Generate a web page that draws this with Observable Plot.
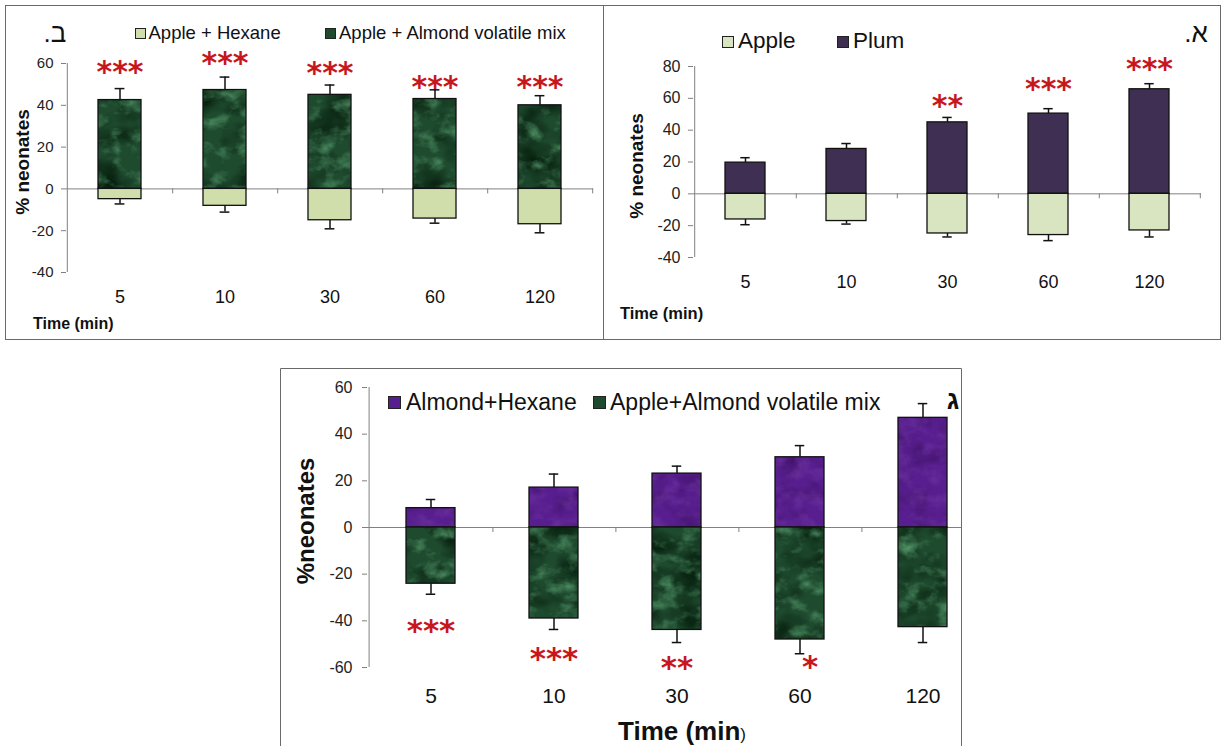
<!DOCTYPE html>
<html>
<head>
<meta charset="utf-8">
<script src="https://cdn.jsdelivr.net/npm/d3@7"></script>
<script src="https://cdn.jsdelivr.net/npm/@observablehq/plot@0.6"></script>
<style>
html,body{margin:0;padding:0;background:#fff;}
#page{position:relative;width:1225px;height:746px;overflow:hidden;background:#fff;font-family:"Liberation Sans",Arial,sans-serif;}
#chartB{position:absolute;left:0;top:0;width:603px;height:340px;}
#chartA{position:absolute;left:603px;top:0;width:618px;height:340px;}
#clipC{position:absolute;left:278px;top:368px;width:684px;height:378px;overflow:hidden;}
#overlay{position:absolute;left:0;top:0;pointer-events:none;}
</style>
</head>
<body>
<div id="page">
  <svg width="0" height="0" style="position:absolute;left:0;top:0">
    <defs>
      <filter id="nGreenLight" filterUnits="userSpaceOnUse" x="0" y="0" width="1300" height="800" color-interpolation-filters="sRGB">
        <feTurbulence type="fractalNoise" baseFrequency="0.05 0.07" numOctaves="4" seed="5"/>
        <feColorMatrix type="matrix" values="0 0 0 0 0.33  0 0 0 0 0.60  0 0 0 0 0.42  2.0 0 0 0 -0.95"/>
      </filter>
      <filter id="nGreenDark" filterUnits="userSpaceOnUse" x="0" y="0" width="1300" height="800" color-interpolation-filters="sRGB">
        <feTurbulence type="fractalNoise" baseFrequency="0.025 0.035" numOctaves="3" seed="9"/>
        <feColorMatrix type="matrix" values="0 0 0 0 0.03  0 0 0 0 0.13  0 0 0 0 0.06  0 2.4 0 0 -0.95"/>
      </filter>
      <pattern id="marbleGreen" patternUnits="userSpaceOnUse" width="1300" height="800">
        <rect width="1300" height="800" fill="#1e4a2e"/>
        <rect width="1300" height="800" filter="url(#nGreenDark)"/>
        <rect width="1300" height="800" filter="url(#nGreenLight)"/>
      </pattern>
      <filter id="nPurpleLight" filterUnits="userSpaceOnUse" x="0" y="0" width="1300" height="800" color-interpolation-filters="sRGB">
        <feTurbulence type="fractalNoise" baseFrequency="0.06 0.08" numOctaves="4" seed="3"/>
        <feColorMatrix type="matrix" values="0 0 0 0 0.45  0 0 0 0 0.22  0 0 0 0 0.64  1.4 0 0 0 -0.62"/>
      </filter>
      <filter id="nPurpleDark" filterUnits="userSpaceOnUse" x="0" y="0" width="1300" height="800" color-interpolation-filters="sRGB">
        <feTurbulence type="fractalNoise" baseFrequency="0.04 0.05" numOctaves="3" seed="12"/>
        <feColorMatrix type="matrix" values="0 0 0 0 0.22  0 0 0 0 0.06  0 0 0 0 0.36  0 1.4 0 0 -0.62"/>
      </filter>
      <pattern id="marblePurple" patternUnits="userSpaceOnUse" width="1300" height="800">
        <rect width="1300" height="800" fill="#581e8f"/>
        <rect width="1300" height="800" filter="url(#nPurpleDark)"/>
        <rect width="1300" height="800" filter="url(#nPurpleLight)"/>
      </pattern>
    </defs>
  </svg>
  <div id="chartB"></div>
  <div id="chartA"></div>
  <div id="clipC"></div>
  <svg id="overlay" width="1225" height="746"></svg>
</div>
<script>
// ---------- DATA ----------
const times = ["5", "10", "30", "60", "120"];

// Panel ב (top-left)
const bMixValues = [42.5, 47.3, 45, 43, 40];
const bMixErrors = [48, 53.5, 49.7, 47.4, 44.6];
const bHexaneValues = [-4.9, -8.1, -15, -14.2, -16.9];
const bHexaneErrors = [-7.2, -11.1, -19.1, -16.4, -21];
const bStarLabels = ["***", "***", "***", "***", "***"];
const bStarValues = [59.3, 63.5, 58.9, 52, 52];
const bYTicks = [-40, -20, 0, 20, 40, 60];
const bLegend = ["Apple + Hexane", "Apple + Almond volatile mix"];

// Panel א (top-right)
const aPlumValues = [19.6, 28.2, 44.9, 50.4, 65.7];
const aPlumErrors = [22.7, 31.6, 48, 53.5, 69.2];
const aAppleValues = [-16.1, -17.1, -24.9, -25.9, -23];
const aAppleErrors = [-19.4, -19, -27.1, -29.4, -27.1];
const aStarLabels = ["", "", "**", "***", "***"];
const aStarValues = [null, null, 59.6, 70, 83];
const aYTicks = [-40, -20, 0, 20, 40, 60, 80];
const aLegend = ["Apple", "Plum"];

// Panel ג (bottom)
const cAlmondValues = [8.3, 17.1, 23.1, 30.1, 47];
const cAlmondErrors = [12, 22.9, 26.3, 35.1, 53.1];
const cMixValues = [-24.1, -39, -43.9, -48, -42.7];
const cMixErrors = [-28.6, -43.7, -49.3, -54.1, -49.3];
const cStarLabels = ["***", "***", "**", "*", ""];
const cStarValues = [-41.2, -53.1, -57.0, -56.8, null];
const cYTicks = [-60, -40, -20, 0, 20, 40, 60];
const cLegend = ["Almond+Hexane", "Apple+Almond volatile mix"];

const panelLetters = ["ב.", "א.", "ג"];
const xTitle = "Time (min";
const xTitleClose = ")";
const yTitleTop = "% neonates";
const yTitleBottom = "%neonates";

// ---------- HELPERS ----------
const FONT = "'Liberation Sans', Arial, Helvetica, sans-serif";
const STAR_FONT = "'DejaVu Sans', sans-serif";
const rows = (vals, errs) => times.map((t, i) => ({time: t, value: vals[i], err: errs[i]}));
const starRows = (labels, vals) => times.map((t, i) => ({time: t, label: labels[i], value: vals[i]})).filter(d => d.label);

function makePanel(o) {
  const n = times.length;
  const step = (o.width - o.marginLeft - o.marginRight) / n;
  const bw = step * o.barFrac;
  const cap = (bw - o.capWidth) / 2;
  const ink = "#111";
  const axisGray = "#808080";
  const pos = rows(o.posValues, o.posErrors);
  const neg = rows(o.negValues, o.negErrors);
  const stars = starRows(o.starLabels, o.starValues);
  const errorBars = (data) => [
    Plot.ruleX(data, {x: "time", y1: "value", y2: "err", stroke: ink, strokeWidth: 1.5}),
    Plot.tickY(data, {x: "time", y: "err", insetLeft: cap, insetRight: cap, stroke: ink, strokeWidth: 1.5})
  ];
  const starStyle = {x: "time", y: "value", text: "label", fill: "#c8161d", fontSize: o.starFont, fontFamily: STAR_FONT, fontWeight: "bold", dy: o.starFont * 0.24};
  return Plot.plot({
    width: o.width, height: o.height,
    marginLeft: o.marginLeft, marginRight: o.marginRight, marginTop: o.marginTop, marginBottom: o.marginBottom,
    style: {fontFamily: FONT, background: "transparent", overflow: "visible", maxWidth: "none"},
    x: {type: "band", domain: times, paddingInner: 1 - o.barFrac, paddingOuter: (1 - o.barFrac) / 2, label: null},
    y: {domain: o.yDomain, label: null},
    marks: [
      Plot.ruleX([times[0]], {x: d => d, dx: -step / 2, stroke: axisGray, strokeWidth: 1}),
      Plot.axisY({ticks: o.yTicks, tickSize: 5, tickPadding: o.tickPadding, tickFormat: d => String(d), fontSize: o.tickFont, stroke: axisGray, fill: "#222", label: null}),
      Plot.axisX({tickSize: 0, tickPadding: o.catPadding, fontSize: o.catFont, fill: "#111", label: null}),
      Plot.ruleY([0], {stroke: axisGray}),
      Plot.ruleX(times, {x: d => d, dx: step / 2, y1: () => 0, y2: () => 0, insetBottom: -5, stroke: axisGray}),
      ...errorBars(pos),
      ...errorBars(neg),
      Plot.barY(pos, {x: "time", y1: () => 0, y2: "value", fill: o.posFill, stroke: ink, strokeWidth: 1.3}),
      Plot.barY(neg, {x: "time", y1: () => 0, y2: "value", fill: o.negFill, stroke: ink, strokeWidth: 1.3}),
      Plot.text(stars.filter(d => d.label !== "*"), starStyle),
      Plot.text(stars.filter(d => d.label === "*"), {...starStyle, dx: o.singleStarDx || 0})
    ]
  });
}

// ---------- PANELS ----------
document.getElementById("chartB").append(makePanel({
  width: 603, height: 340, marginLeft: 66, marginRight: 10, marginTop: 63, marginBottom: 68,
  yDomain: [-40, 60], yTicks: bYTicks, barFrac: 0.41, capWidth: 10,
  posValues: bMixValues, posErrors: bMixErrors, posFill: "url(#marbleGreen)",
  negValues: bHexaneValues, negErrors: bHexaneErrors, negFill: "#cfdeab",
  starLabels: bStarLabels, starValues: bStarValues, starFont: 30,
  tickFont: 15, tickPadding: 8, catFont: 18, catPadding: 18
}));

document.getElementById("chartA").append(makePanel({
  width: 618, height: 340, marginLeft: 90, marginRight: 20, marginTop: 66, marginBottom: 83,
  yDomain: [-40, 80], yTicks: aYTicks, barFrac: 0.40, capWidth: 10,
  posValues: aPlumValues, posErrors: aPlumErrors, posFill: "#3f3053",
  negValues: aAppleValues, negErrors: aAppleErrors, negFill: "#d9e4c1",
  starLabels: aStarLabels, starValues: aStarValues, starFont: 30,
  tickFont: 16, tickPadding: 8, catFont: 18, catPadding: 18
}));

document.getElementById("clipC").append(makePanel({
  width: 720, height: 378, marginLeft: 89, marginRight: 12, marginTop: 19, marginBottom: 79,
  yDomain: [-60, 60], yTicks: cYTicks, barFrac: 0.40, capWidth: 10,
  posValues: cAlmondValues, posErrors: cAlmondErrors, posFill: "url(#marblePurple)",
  negValues: cMixValues, negErrors: cMixErrors, negFill: "url(#marbleGreen)",
  starLabels: cStarLabels, starValues: cStarValues, starFont: 31, singleStarDx: 10,
  tickFont: 16, tickPadding: 10, catFont: 21, catPadding: 21
}));

// ---------- OVERLAY: borders, legends, titles ----------
const ov = d3.select("#overlay").attr("font-family", FONT);
const border = "#6a6a6a";
ov.append("rect").attr("x", 5.5).attr("y", 5.5).attr("width", 598).attr("height", 334).attr("fill", "none").attr("stroke", border);
ov.append("rect").attr("x", 603.5).attr("y", 5.5).attr("width", 617).attr("height", 334).attr("fill", "none").attr("stroke", border);
ov.append("path").attr("d", "M280.5,760V368.5H961.5V760").attr("fill", "none").attr("stroke", border);

function legendItem(sx, sy, size, fill, label, tx, baseline, fontSize) {
  ov.append("rect").attr("x", sx + 0.5).attr("y", sy + 0.5).attr("width", size).attr("height", size)
    .attr("fill", fill).attr("stroke", "#222").attr("stroke-width", 1);
  ov.append("text").attr("x", tx).attr("y", baseline).attr("font-size", fontSize).attr("fill", "#111").text(label);
}
// Panel ב legend
legendItem(135, 28, 10, "#cfdeab", bLegend[0], 148.5, 39, 18.5);
legendItem(325, 28, 10, "#1e4a2e", bLegend[1], 339, 39, 18.5);
// Panel א legend
legendItem(722, 36, 11, "#d9e4c1", aLegend[0], 738, 48, 22.5);
legendItem(837, 36, 11, "#3f3053", aLegend[1], 853, 48, 22.5);
// Panel ג legend
legendItem(388, 396, 12, "#581e8f", cLegend[0], 406, 410, 23);
legendItem(593, 396, 12, "#1e4a2e", cLegend[1], 610, 410, 23);

// Panel letters (Hebrew, right-to-left)
function letter(cx, baseline, str, size, weight) {
  ov.append("text").attr("x", cx).attr("y", baseline).attr("font-size", size)
    .attr("font-weight", weight).attr("text-anchor", "middle").attr("direction", "rtl")
    .style("unicode-bidi", "embed").attr("fill", "#111").text(str);
}
letter(55, 42, panelLetters[0], 26, "normal");
letter(1196, 42, panelLetters[1], 26, "normal");
letter(953, 409, panelLetters[2], 26, "bold");

// X titles
function xTitleText(x, baseline, size, closeSize) {
  const t = ov.append("text").attr("x", x).attr("y", baseline).attr("font-size", size).attr("font-weight", "bold").attr("fill", "#111");
  t.append("tspan").text(xTitle);
  t.append("tspan").attr("font-size", closeSize).attr("font-weight", closeSize === size ? "bold" : "normal").text(xTitleClose);
}
xTitleText(33, 329, 16, 16);
xTitleText(620, 319, 16.5, 16.5);
xTitleText(618, 740, 26, 17);

// Y titles (rotated)
function yTitle(x, cy, str, size) {
  ov.append("text").attr("transform", `translate(${x},${cy}) rotate(-90)`).attr("text-anchor", "middle")
    .attr("font-size", size).attr("font-weight", "bold").attr("fill", "#111").text(str);
}
yTitle(29, 162, yTitleTop, 19);
yTitle(643, 166, yTitleTop, 19);
yTitle(314, 521, yTitleBottom, 24);
</script>
</body>
</html>
